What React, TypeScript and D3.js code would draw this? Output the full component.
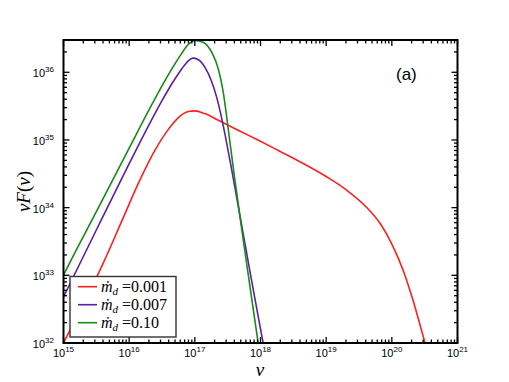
import React from "react";
import * as d3 from "d3";

// log10(nu), log10(nuF(nu)) readings per series
const redLogNu = [14.97, 15.0, 15.3, 15.6, 15.9, 16.15, 16.4, 16.6, 16.75, 16.9, 17.0, 17.15, 17.38, 17.69, 18.0, 18.3, 18.5, 19.0, 19.31, 19.61, 19.82, 20.02, 20.17, 20.32, 20.48, 20.52];
const redLogF = [31.94, 32.0, 32.57, 33.17, 33.83, 34.38, 34.86, 35.16, 35.33, 35.42, 35.43, 35.39, 35.28, 35.13, 34.98, 34.83, 34.73, 34.46, 34.26, 34.01, 33.77, 33.42, 33.08, 32.64, 32.09, 31.95];

const purpleLogNu = [14.95, 15.0, 15.5, 16.0, 16.3, 16.5, 16.65, 16.8, 16.9, 16.97, 17.05, 17.15, 17.25, 17.33, 17.4, 17.47, 17.55, 17.65, 17.75, 17.85, 17.95, 18.04, 18.07];
const purpleLogF = [32.58, 32.68, 33.67, 34.65, 35.22, 35.58, 35.83, 36.05, 36.17, 36.21, 36.19, 36.08, 35.88, 35.64, 35.36, 35.03, 34.62, 34.08, 33.54, 33.0, 32.47, 32.0, 31.85];

const greenLogNu = [14.95, 15.0, 15.5, 16.0, 16.3, 16.5, 16.65, 16.8, 16.9, 17.0, 17.13, 17.26, 17.36, 17.43, 17.48, 17.53, 17.6, 17.7, 17.8, 17.9, 17.965, 17.99];
const greenLogF = [32.9, 33.0, 33.94, 34.88, 35.44, 35.8, 36.05, 36.28, 36.41, 36.47, 36.44, 36.29, 36.04, 35.72, 35.38, 35.0, 34.48, 33.78, 33.1, 32.43, 32.0, 31.85];

const seriesNames = ["0.001", "0.007", "0.10"];
const seriesColors = ["#ff1f1f", "#5a1fa6", "#178a17"];
const xTickExps = [15, 16, 17, 18, 19, 20, 21];
const yTickExps = [32, 33, 34, 35, 36];

const W = 509;
const H = 382;
const L = 63.5, R = 457.5, T = 40, B = 343;

export default function App() {
  const x = d3.scaleLog().domain([1e15, 1e21]).range([L, R]);
  const y = d3.scaleLog().domain([1e32, 3e36]).range([B, T]);

  const series = [
    { nu: redLogNu, f: redLogF },
    { nu: purpleLogNu, f: purpleLogF },
    { nu: greenLogNu, f: greenLogF },
  ].map((s, i) => ({
    name: seriesNames[i],
    color: seriesColors[i],
    pts: s.nu.map((v, j) => [Math.pow(10, v), Math.pow(10, s.f[j])] as [number, number]),
  }));

  const line = d3
    .line<[number, number]>()
    .x((d) => x(d[0]))
    .y((d) => y(d[1]))
    .curve(d3.curveMonotoneX);

  const xMinor: number[] = [];
  for (let e = 15; e < 21; e++) for (let m = 2; m <= 9; m++) xMinor.push(m * Math.pow(10, e));
  const yMinor: number[] = [];
  for (let e = 32; e < 37; e++)
    for (let m = 2; m <= 9; m++) {
      const v = m * Math.pow(10, e);
      if (v <= 3e36) yMinor.push(v);
    }

  const MAJ = 6, MIN = 3.5;

  return (
    <svg width={W} height={H} style={{ position: "absolute", left: 0, top: 0 }} xmlns="http://www.w3.org/2000/svg">
      <rect x={0} y={0} width={W} height={H} fill="#fff" />
      <defs>
        <clipPath id="plotclip">
          <rect x={L} y={T} width={R - L} height={B - T} />
        </clipPath>
      </defs>

      <g clipPath="url(#plotclip)">
        {series.map((s) => (
          <path key={s.name} d={line(s.pts) || ""} fill="none" stroke={s.color} strokeWidth={1.6} />
        ))}
      </g>

      <g stroke="#000" strokeWidth={1.3}>
        {xTickExps.map((e) => {
          const px = x(Math.pow(10, e));
          return (
            <g key={"xt" + e}>
              <line x1={px} x2={px} y1={B} y2={B - MAJ} />
              <line x1={px} x2={px} y1={T} y2={T + MAJ} />
            </g>
          );
        })}
        {xMinor.map((v, i) => {
          const px = x(v);
          return (
            <g key={"xm" + i}>
              <line x1={px} x2={px} y1={B} y2={B - MIN} />
              <line x1={px} x2={px} y1={T} y2={T + MIN} />
            </g>
          );
        })}
        {yTickExps.map((e) => {
          const py = y(Math.pow(10, e));
          return (
            <g key={"yt" + e}>
              <line x1={L} x2={L + MAJ} y1={py} y2={py} />
              <line x1={R} x2={R - MAJ} y1={py} y2={py} />
            </g>
          );
        })}
        {yMinor.map((v, i) => {
          const py = y(v);
          return (
            <g key={"ym" + i}>
              <line x1={L} x2={L + MIN} y1={py} y2={py} />
              <line x1={R} x2={R - MIN} y1={py} y2={py} />
            </g>
          );
        })}
      </g>

      <rect x={L} y={T} width={R - L} height={B - T} fill="none" stroke="#000" strokeWidth={2} />

      <g fontFamily="'Liberation Sans', Arial, sans-serif" fill="#000">
        {xTickExps.map((e) => (
          <text key={"xl" + e} x={x(Math.pow(10, e))} y={357} textAnchor="middle" fontSize={11}>
            10<tspan fontSize={8} dy={-5}>{e}</tspan>
          </text>
        ))}
        {yTickExps.map((e) => (
          <text key={"yl" + e} x={54} y={y(Math.pow(10, e)) + 5} textAnchor="end" fontSize={11}>
            10<tspan fontSize={8} dy={-5}>{e}</tspan>
          </text>
        ))}
      </g>

      <text x={260} y={376} textAnchor="middle" fontFamily="'Liberation Serif', 'DejaVu Serif', serif" fontStyle="italic" fontSize={19}>
        ν
      </text>
      <text
        transform={`translate(30,${(T + B) / 2}) rotate(-90)`}
        textAnchor="middle"
        fontFamily="'Liberation Serif', 'DejaVu Serif', serif"
        fontStyle="italic"
        fontSize={19}
      >
        νF<tspan fontStyle="normal">(</tspan>ν<tspan fontStyle="normal">)</tspan>
      </text>

      <text x={396} y={80} fontFamily="'Liberation Sans', Arial, sans-serif" fontSize={17}>
        (a)
      </text>

      <g>
        <rect x={70} y={276.5} width={106} height={60.5} fill="#fff" stroke="#333" strokeWidth={1.4} />
        {series.map((s, i) => {
          const ry = 286.7 + i * 18;
          return (
            <g key={"lg" + s.name}>
              <line x1={78} x2={97} y1={ry} y2={ry} stroke={s.color} strokeWidth={1.6} />
              <text x={101} y={ry + 5} fontFamily="'Liberation Serif', 'DejaVu Serif', serif" fontSize={16}>
                <tspan fontStyle="italic">ṁ</tspan>
                <tspan fontStyle="italic" fontSize={11} dy={3}>d</tspan>
                <tspan dy={-3}> =</tspan>
                {s.name}
              </text>
            </g>
          );
        })}
      </g>
    </svg>
  );
}
